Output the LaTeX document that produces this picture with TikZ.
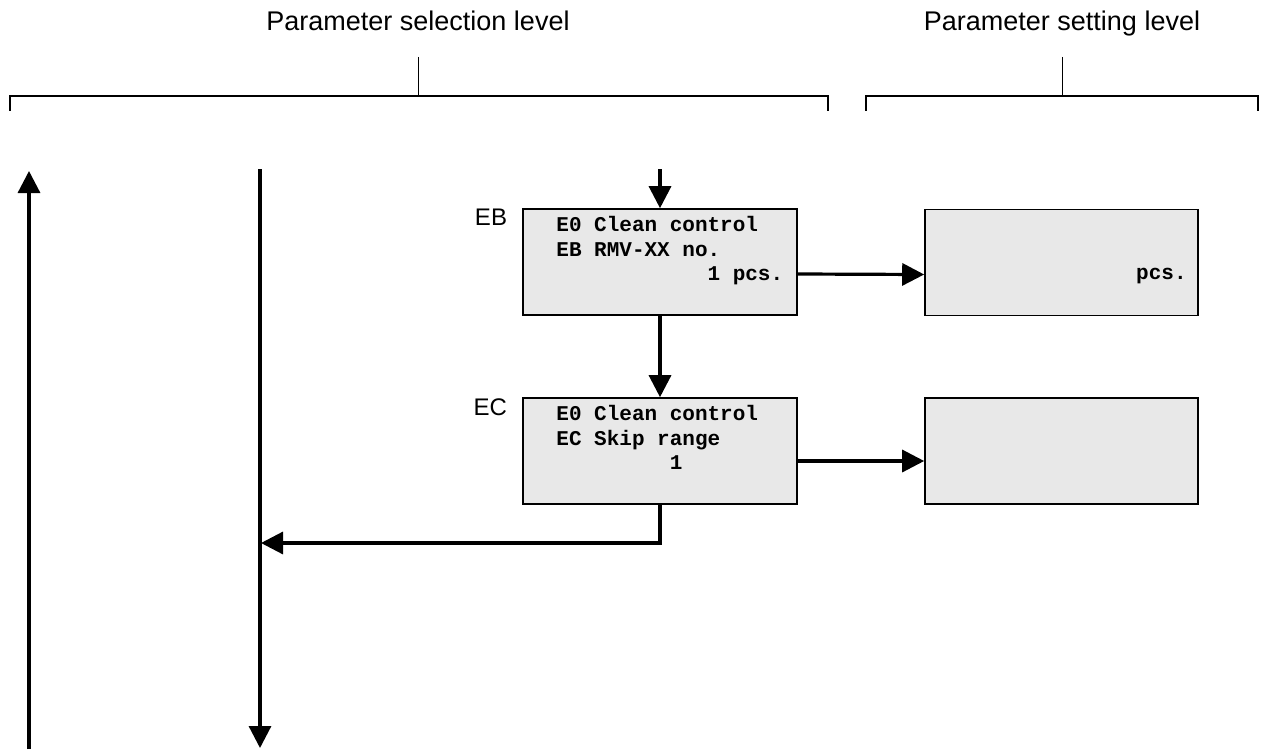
\documentclass[tikz,border=0pt]{standalone}
\usepackage{fontspec}
\setmainfont{Liberation Sans}
\setmonofont{Liberation Mono}
\usetikzlibrary{arrows.meta,positioning,calc}

\begin{document}
\begin{tikzpicture}[x=1pt,y=-1pt,
    parbox/.style={draw,line width=1.6pt,fill=black!9,minimum width=274pt,
      minimum height=106pt,inner sep=0pt},
    boxtxt/.style={font=\fontsize{21}{24.5}\selectfont\ttfamily\bfseries,
      inner sep=0pt,align=left,text width=226.8pt,anchor=north west,
      execute at begin node={\spaceskip=0.6em\relax}},
    lvltxt/.style={font=\fontsize{27}{30}\selectfont,inner sep=0pt,anchor=base},
    codelbl/.style={font=\fontsize{24}{28}\selectfont,inner sep=0pt,anchor=north east},
    flow/.style={line width=3.2pt,-{Triangle[length=22pt,width=22pt]}},
    brack/.style={line width=1.8pt},
    tick/.style={line width=1pt}]
  \useasboundingbox (0,0) rectangle (1265,749);
  %----------------------------------------------------
  % the two levels on top
  %----------------------------------------------------
  \node[lvltxt] (sellvl) at (418,31) {Parameter selection level};
  \node[lvltxt] (setlvl) at (1062,31) {Parameter setting level};
  \draw[brack] (10,111) -- (10,96) -- (828,96) -- (828,111);
  \draw[tick] (418,57) -- (418,96);
  \draw[brack] (866,111) -- (866,96) -- (1258,96) -- (1258,111);
  \draw[tick] (1062,57) -- (1062,96);

  %----------------------------------------------------
  % parameter boxes EB and EC
  %----------------------------------------------------
  \node[parbox] (eb) at (660,262) {};
  \node[boxtxt] (ebtxt) at ([xshift=34pt,yshift=-8pt]eb.north west)
    {E0 Clean control\\EB RMV-XX no.\\\hspace*{\fill}1 pcs.};
  \node[codelbl] (eblbl) at ([xshift=-15pt,yshift=-1pt]eb.north west) {EB};

  \node[parbox] (ec) at (660,451) {};
  \node[boxtxt] (ectxt) at ([xshift=34pt,yshift=-8pt]ec.north west)
    {E0 Clean control\\EC Skip range\\\hspace*{5.4em}1};
  \node[codelbl] (eclbl) at ([xshift=-15pt,yshift=-1pt]ec.north west) {EC};

  % setting boxes
  \node[parbox,minimum width=273pt] (ebset) at (1061.5,262.5) {};
  \node[font=\fontsize{21}{24.5}\selectfont\ttfamily\bfseries,inner sep=0pt,
    anchor=base east] (ebunit) at ([xshift=-12pt,yshift=-17pt]ebset.east) {pcs.};
  \node[parbox,minimum width=273pt] (ecset) at (1061.5,451) {};

  %----------------------------------------------------
  % the flow
  %----------------------------------------------------
  \coordinate (in) at (660,169);
  \coordinate (ret) at (261,543);
  \coordinate (dtop) at (260,169);
  \coordinate (dbot) at (260,748);
  \coordinate (ubot) at (29,749);
  \coordinate (utop) at (29,171);

  \draw[flow] (in) -- (eb.north);
  \draw[flow] (eb.south) -- (ec.north);
  \draw[flow] ([yshift=-12pt]eb.east) -- ([yshift=-12pt]ebset.west);
  \draw[flow] ([yshift=-10pt]ec.east) -- ([yshift=-10pt]ecset.west);
  \draw[flow] (ec.south) |- (ret);
  \draw[flow] (dtop) -- (dbot);
  \draw[flow] (ubot) -- (utop);
\end{tikzpicture}
\end{document}
